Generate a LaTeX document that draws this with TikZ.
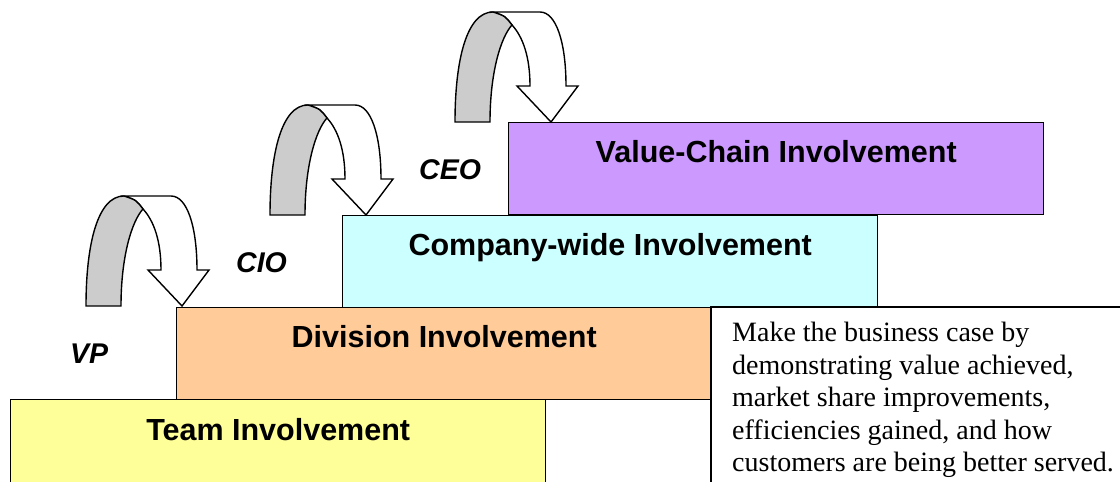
\documentclass[tikz,border=0pt]{standalone}
\usepackage{fontspec}
\setmainfont{Liberation Serif}
\setsansfont{Liberation Sans}
\definecolor{vcfill}{HTML}{CC99FF}
\definecolor{cwfill}{HTML}{CCFFFF}
\definecolor{dvfill}{HTML}{FFCC99}
\definecolor{tmfill}{HTML}{FFFF99}
\definecolor{arrowgray}{HTML}{CCCCCC}
\tikzset{
  stage/.style={draw=black, line width=1.4pt, minimum width=535pt, minimum height=92pt,
    anchor=north west, inner sep=0pt},
  stagelabel/.style={font=\sffamily\bfseries\fontsize{30.5}{36}\selectfont, anchor=base, inner sep=0pt},
  role/.style={font=\sffamily\bfseries\itshape\fontsize{28.5}{34}\selectfont, anchor=base west, inner sep=0pt},
  uturn/.pic={
    % white ribbon running over the top and down into the arrow head
    \filldraw[fill=white, line width=1.4pt]
      (-58,-110) -- (-11,-110) .. controls (5,-110) and (15,-80) .. (15,-36)
      -- (27,-36) -- (0,0) -- (-34,-36) -- (-21,-36)
      .. controls (-21,-65) and (-28,-85) .. (-39,-97)
      .. controls (-46,-106) .. (-58,-110) -- cycle;
    % grey back side of the curved arrow
    \filldraw[fill=arrowgray, line width=1.4pt]
      (-96,0) -- (-61,0) .. controls (-61,-50) and (-50,-85) .. (-39,-97)
      .. controls (-46,-106) .. (-58,-110)
      .. controls (-85,-110) and (-96,-60) .. (-96,0) -- cycle;
  }
}
\begin{document}
\begin{tikzpicture}[x=1pt, y=-1pt]
  \useasboundingbox (0,0) rectangle (1120,482);
  \clip (0,0) rectangle (1120,482);

  % stair steps
  \node[stage, fill=vcfill] (vc) at (508,122) {};
  \node[stage, fill=cwfill] (cw) at (342,215) {};
  \node[stage, fill=dvfill] (dv) at (176,307) {};
  \node[stage, fill=tmfill, minimum height=110pt] (tm) at (10,399) {};

  \node[stagelabel] (vct) at ([yshift=-40pt]vc.north) {Value-Chain Involvement};
  \node[stagelabel] (cwt) at ([yshift=-40pt]cw.north) {Company-wide Involvement};
  \node[stagelabel] (dvt) at ([yshift=-40pt]dv.north) {Division Involvement};
  \node[stagelabel] (tmt) at ([yshift=-41pt]tm.north) {Team Involvement};

  % explanatory note box
  \fill[white] (711,307) rectangle (1135,495);
  \draw[line width=1.4pt] (1135,307) -- (711,307) -- (711,495);
  \node[anchor=north west, inner sep=0pt, align=left,
        font=\fontsize{28}{32.5}\selectfont] (note) at (732,322)
    {Make the business case by\\demonstrating value achieved,\\market share improvements,\\efficiencies gained, and how\\customers are being better served.};

  % role labels
  \node[role] (vp) at (70,363) {VP};
  \node[role] (cio) at (236,272) {CIO};
  \node[role] (ceo) at (419,179) {CEO};

  % curved step-up arrows
  \pic (arrowvp) at (182,306) {uturn};
  \pic (arrowcio) at (366,215) {uturn};
  \pic (arrowceo) at (551,122) {uturn};
\end{tikzpicture}
\end{document}
